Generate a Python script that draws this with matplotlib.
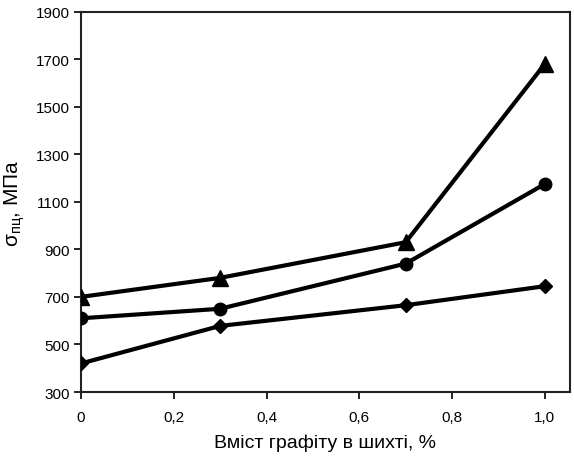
import numpy as np
import matplotlib
matplotlib.use("Agg")
import matplotlib.pyplot as plt
from matplotlib.ticker import FuncFormatter

plt.rcParams['font.family'] = ['Liberation Sans', 'DejaVu Sans']
plt.rcParams['mathtext.fontset'] = 'custom'
plt.rcParams['mathtext.rm'] = 'Liberation Sans'

graphite = [0, 0.3, 0.7, 1.0]
sigma_triangle = [700, 780, 930, 1680]
sigma_circle = [610, 650, 840, 1175]
sigma_diamond = [420, 578, 665, 745]

fig = plt.figure(figsize=(5.74, 4.64), dpi=100)
ax = fig.add_axes([0.141, 0.153, 0.852, 0.820])

ax.plot(graphite, sigma_triangle, color='black', lw=3, marker='^', ms=11.5, zorder=3)
ax.plot(graphite, sigma_circle, color='black', lw=3, marker='o', ms=9, zorder=3)
ax.plot(graphite, sigma_diamond, color='black', lw=3, marker='D', ms=7, zorder=3)

ax.set_xlim(0, 1.054)
ax.set_ylim(300, 1900)
ax.set_xticks([0, 0.2, 0.4, 0.6, 0.8, 1.0])
ax.set_yticks(np.arange(300, 1901, 200))
ax.xaxis.set_major_formatter(FuncFormatter(lambda v, p: '0' if v == 0 else f'{v:.1f}'.replace('.', ',')))
ax.tick_params(direction='out', length=5, width=1.2, labelsize=11, pad=8)
ax.tick_params(axis='y', pad=3)
for s in ax.spines.values():
    s.set_linewidth(1.5)
    s.set_color('#222222')

ax.set_xlabel('Вміст графіту в шихті, %', fontsize=14, labelpad=7)
ax.set_ylabel(r'σ$_{\mathregular{пц}}$, МПа', fontsize=15, labelpad=6)

fig.savefig('out.png', dpi=100)
